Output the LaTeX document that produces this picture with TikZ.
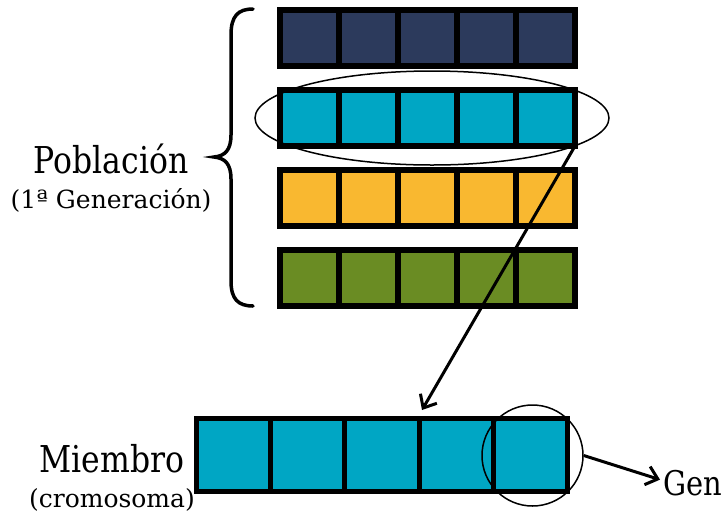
\documentclass[tikz,border=0pt]{standalone}
\usepackage{fontspec}
\usetikzlibrary{arrows.meta,shapes.geometric}
\newfontfamily\slab[FakeStretch=0.85]{DejaVu Serif}
\newfontfamily\slabwide{DejaVu Serif}

\definecolor{navy}{RGB}{44,58,92}
\definecolor{teal}{RGB}{0,166,196}
\definecolor{amber}{RGB}{249,184,48}
\definecolor{olive}{RGB}{106,140,35}

\tikzset{
  gene/.style={draw=black, line width=6, minimum width=59, minimum height=56,
               inner sep=0, outer sep=0},
  bigene/.style={draw=black, line width=5, minimum width=74.2, minimum height=73,
               inner sep=0, outer sep=0, fill=teal},
  bigtext/.style={font=\slab\fontsize{37}{40}\selectfont, inner sep=0},
  gentext/.style={font=\slab\fontsize{34}{38}\selectfont, inner sep=0},
  smalltext/.style={font=\slabwide\fontsize{25}{28}\selectfont, inner sep=0},
  arr/.style={line width=3, -{Straight Barb[length=11,width=19,line width=3]}},
  thin/.style={draw=black, line width=1.5, inner sep=0},
}

\begin{document}
\begin{tikzpicture}[x=1pt,y=-1pt]
\useasboundingbox (0,0) rectangle (725,515);

% population: four chromosomes of five genes each
\foreach \r/\col/\yc in {1/navy/38, 2/teal/118, 3/amber/198, 4/olive/278}{
  \foreach \c in {1,...,5}{
    \node[gene, fill=\col] (r\r c\c) at ({280+59*(\c-0.5)},\yc) {};
  }
}

% selection ring around the second chromosome
\node[thin, ellipse, minimum width=354, minimum height=94] (sel) at (432,118) {};

% brace grouping the population
\draw[line width=3.5, line cap=round]
  (253,9) .. controls (238,9) and (231,16) .. (231,35)
  -- (231,135) .. controls (231,150) and (225,156) .. (214,157)
  .. controls (225,158) and (231,164) .. (231,179)
  -- (231,281) .. controls (231,299) and (238,306) .. (253,306);

\node[bigtext, anchor=base] (pob) at (111,173) {Población};
\node[smalltext, anchor=base] (gener) at (111,208) {(1ª Generación)};

% selected member, enlarged
\foreach \c in {1,...,5}{
  \node[bigene] (m\c) at ({196.5+74.2*(\c-0.5)},455) {};
}
\node[thin, circle, minimum size=101] (gsel) at (532.5,455.5) {};

\node[bigtext, anchor=base] (miem) at (112,472) {Miembro};
\node[smalltext, anchor=base] (crom) at (112,507) {(cromosoma)};
\node[gentext, anchor=base west] (gen) at (663,495) {Gen};

\coordinate (tgt) at (422,410);
\draw[arr] (r2c5.south east) -- (tgt);
\draw[arr] (gsel.east) -- ([xshift=-3,yshift=3]gen.west);
\end{tikzpicture}
\end{document}
